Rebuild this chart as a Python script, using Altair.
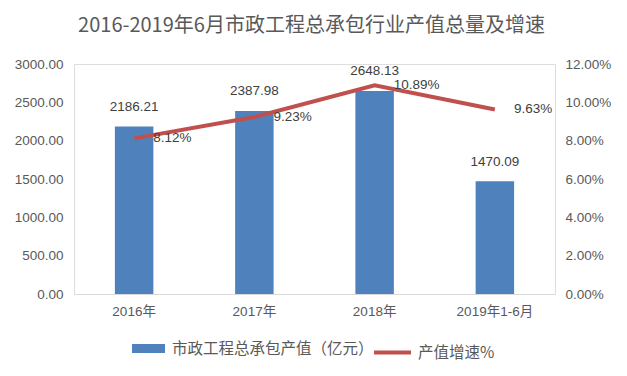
import altair as alt
import pandas as pd

categories = ["2016年", "2017年", "2018年", "2019年1-6月"]
output_values = [2186.21, 2387.98, 2648.13, 1470.09]
growth_rates = [0.0812, 0.0923, 0.1089, 0.0963]
left_ticks = [0, 500, 1000, 1500, 2000, 2500, 3000]
right_ticks = [0, 0.02, 0.04, 0.06, 0.08, 0.10, 0.12]
bar_series = "市政工程总承包产值（亿元）"
line_series = "产值增速%"
title_text = "2016-2019年6月市政工程总承包行业产值总量及增速"

df = pd.DataFrame({
    "cat": categories,
    "value": output_values,
    "rate": growth_rates,
    "s1": [bar_series] * 4,
    "s2": [line_series] * 4,
})

NUM_FONT = "Liberation Sans, Noto Sans CJK SC"
CJK_FONT = "Noto Sans CJK SC"

x = alt.X("cat:N", sort=categories, title=None,
          scale=alt.Scale(paddingInner=0.68, paddingOuter=0.34),
          axis=alt.Axis(labelAngle=0, ticks=False, domainColor="#d9d9d9",
                        labelFont=NUM_FONT, labelFontSize=13.5, labelColor="#595959",
                        labelPadding=10, grid=False, labelOverlap=False))

left_axis = alt.Axis(values=left_ticks, format=".2f", tickCount=7,
                     ticks=False, domain=False, grid=False, labelOverlap=False,
                     labelFont=NUM_FONT, labelFontSize=13.5, labelColor="#595959",
                     labelPadding=11)
right_axis = alt.Axis(orient="right", values=right_ticks, format=".2%", tickCount=7,
                      ticks=False, domain=False, grid=False, labelOverlap=False,
                      labelFont=NUM_FONT, labelFontSize=13.5, labelColor="#595959",
                      labelPadding=10)

bar = alt.Chart(df).mark_bar(color="#4f81bd").encode(
    x=x,
    y=alt.Y("value:Q", title=None,
            scale=alt.Scale(domain=[0, 3000], nice=False),
            axis=left_axis),
    fill=alt.Fill("s1:N", title=None,
                  scale=alt.Scale(domain=[bar_series], range=["#4f81bd"]),
                  legend=alt.Legend(orient="none", legendX=58, legendY=268,
                                    symbolType="M-1,-0.27H1V0.27H-1Z", symbolSize=1089,
                                    symbolStrokeWidth=0, labelOffset=7, padding=0,
                                    labelLimit=400,
                                    labelFont=CJK_FONT, labelFontSize=15.5, labelColor="#595959")),
)
bar_text = alt.Chart(df).mark_text(dy=-19.5, baseline="middle", align="center",
                                   font=NUM_FONT, fontSize=13.5, color="#404040").encode(
    x=alt.X("cat:N", sort=categories),
    y=alt.Y("value:Q", axis=left_axis),
    text=alt.Text("value:Q", format=".2f"),
)

line = alt.Chart(df).mark_line(strokeWidth=4, color="#c0504d").encode(
    x=alt.X("cat:N", sort=categories),
    y=alt.Y("rate:Q", title=None,
            scale=alt.Scale(domain=[0, 0.12], nice=False),
            axis=right_axis),
    stroke=alt.Stroke("s2:N", title=None,
                      scale=alt.Scale(domain=[line_series], range=["#c0504d"]),
                      legend=alt.Legend(orient="none", legendX=298, legendY=268,
                                        symbolType="stroke", symbolSize=1369,
                                        symbolStrokeWidth=4, labelOffset=5, padding=0,
                                        labelLimit=400,
                                        labelFont=CJK_FONT, labelFontSize=15.5, labelColor="#595959")),
)
line_text = alt.Chart(df).mark_text(dx=19, align="left", baseline="middle",
                                    font=NUM_FONT, fontSize=13.5, color="#404040").encode(
    x=alt.X("cat:N", sort=categories),
    y=alt.Y("rate:Q", axis=right_axis),
    text=alt.Text("rate:Q", format=".2%"),
)

chart = alt.layer(
    alt.layer(bar, bar_text),
    alt.layer(line, line_text),
).resolve_scale(y="independent", fill="independent", stroke="independent").properties(
    width=481, height=230,
    autosize="none",
    padding={"left": 66, "top": 56, "right": 64, "bottom": 74},
    title=alt.TitleParams(title_text, font=CJK_FONT, fontSize=20, fontWeight="normal",
                          color="#595959", anchor="middle", offset=21, dx=-3),
).configure_view(stroke=None).configure_axis(labelOverlap=False).configure(background="white")

chart.save("out.html", embed_options={"renderer": "svg", "actions": False})
